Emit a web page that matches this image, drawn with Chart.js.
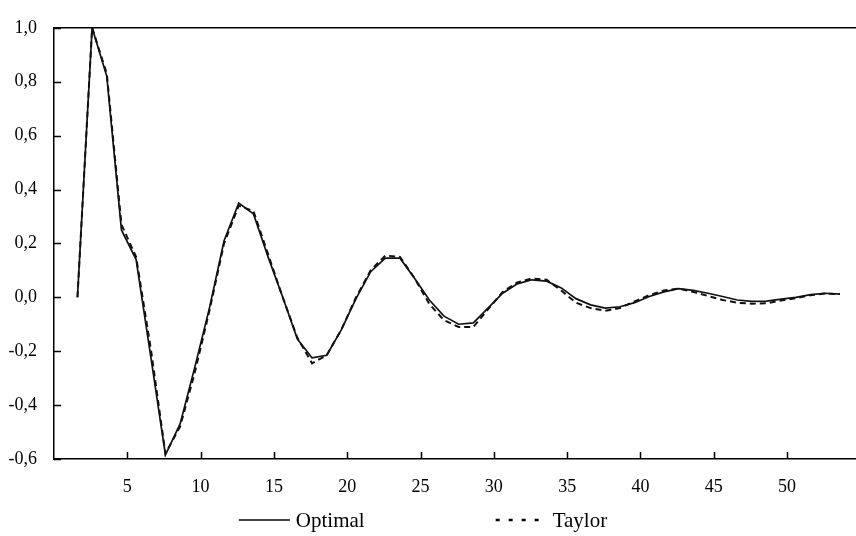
<!DOCTYPE html>
<html><head><meta charset="utf-8">
<script src="https://cdn.jsdelivr.net/npm/chart.js@4"></script>
<style>html,body{margin:0;padding:0;background:#fff}</style>
</head><body>
<canvas id="c" width="856" height="536"></canvas>
<script>
// ---- data ----
const lags = [1,2,3,4,5,6,7,8,9,10,11,12,13,14,15,16,17,18,19,20,21,22,23,24,25,26,27,28,29,30,31,32,33,34,35,36,37,38,39,40,41,42,43,44,45,46,47,48,49,50,51,52,53];
const lagPlotOffset = 0.6; // points sit slightly right of the integer lag in the original
const optimal = [0.0,1.0,0.82,0.25,0.14,-0.22,-0.585,-0.47,-0.26,-0.04,0.21,0.35,0.31,0.15,0.0,-0.155,-0.225,-0.215,-0.12,-0.005,0.095,0.145,0.145,0.07,-0.01,-0.07,-0.10,-0.095,-0.04,0.015,0.05,0.065,0.06,0.035,-0.005,-0.028,-0.04,-0.035,-0.02,0.003,0.02,0.032,0.026,0.015,0.003,-0.01,-0.015,-0.014,-0.007,0.0,0.01,0.015,0.012];
const taylor = [0.0,1.0,0.83,0.27,0.15,-0.19,-0.58,-0.48,-0.28,-0.05,0.20,0.34,0.32,0.16,0.0,-0.15,-0.245,-0.215,-0.12,0.0,0.10,0.155,0.15,0.07,-0.025,-0.085,-0.11,-0.11,-0.045,0.02,0.055,0.07,0.065,0.025,-0.02,-0.04,-0.05,-0.04,-0.015,0.008,0.025,0.032,0.02,0.005,-0.01,-0.02,-0.024,-0.022,-0.012,-0.003,0.008,0.014,0.012];
const seriesNames = ['Optimal', 'Taylor'];
const xTicks = [5,10,15,20,25,30,35,40,45,50];
const yTicks = [-0.6,-0.4,-0.2,0.0,0.2,0.4,0.6,0.8,1.0];

const FONT = '"Liberation Serif", "Times New Roman", serif';
const INK = '#000';

const toPts = arr => arr.map((v, i) => ({x: lags[i] + lagPlotOffset, y: v}));

const frameAndTicks = {
  id: 'frameAndTicks',
  afterDraw(chart) {
    const {ctx, chartArea: a, scales: {x, y}} = chart;
    ctx.save();
    ctx.strokeStyle = INK;
    ctx.lineWidth = 1.5;
    ctx.beginPath();
    ctx.moveTo(a.left, a.top); ctx.lineTo(a.right, a.top);
    xTicks.forEach(v => { const p = Math.round(x.getPixelForValue(v)) + 0.5; ctx.moveTo(p, a.bottom); ctx.lineTo(p, a.bottom - 7); });
    yTicks.forEach(v => { const p = Math.round(y.getPixelForValue(v)) + 0.5; ctx.moveTo(a.left, p); ctx.lineTo(a.left + 7, p); });
    ctx.stroke();
    // legend
    const legendY = 520;
    ctx.font = '21px ' + FONT;
    ctx.fillStyle = INK;
    ctx.textBaseline = 'middle';
    const lineLen = 51, gap = 6, spacing = 131;
    const items = chart.data.datasets.map(ds => ({ds, w: lineLen + gap + ctx.measureText(ds.label).width}));
    const total = items.reduce((s, it) => s + it.w, 0) + spacing * (items.length - 1);
    let cx = chart.width / 2 - total / 2 - 5;
    items.forEach(it => {
      ctx.beginPath();
      ctx.lineWidth = it.ds.legendDash.length ? 2.5 : 1.5;
      ctx.setLineDash(it.ds.legendDash);
      ctx.moveTo(cx, legendY); ctx.lineTo(cx + lineLen, legendY);
      ctx.stroke();
      ctx.setLineDash([]);
      ctx.fillText(it.ds.label, cx + lineLen + gap, legendY + 1);
      cx += it.w + spacing;
    });
    ctx.restore();
  }
};

new Chart(document.getElementById('c'), {
  type: 'line',
  data: {
    datasets: [
      {label: seriesNames[0], data: toPts(optimal), borderColor: '#111', borderWidth: 1.7, pointRadius: 0, fill: false, tension: 0, legendDash: []},
      {label: seriesNames[1], data: toPts(taylor), borderColor: '#111', borderWidth: 2, borderDash: [6, 4], pointRadius: 0, fill: false, tension: 0, legendDash: [4, 9]}
    ]
  },
  options: {
    responsive: false,
    animation: false,
    devicePixelRatio: 1,
    layout: {padding: {left: 0, right: 0, top: 13, bottom: 37}},
    plugins: {legend: {display: false}, tooltip: {enabled: false}},
    scales: {
      x: {
        type: 'linear', min: 0, max: 54.7,
        afterBuildTicks: s => { s.ticks = xTicks.map(v => ({value: v})); },
        afterFit: s => { s.height = 40; },
        grid: {display: false, drawTicks: false},
        border: {display: true, color: INK, width: 1.5},
        ticks: {padding: 17, color: INK, font: {family: FONT, size: 18}, maxRotation: 0, autoSkip: false, callback: v => String(v)}
      },
      y: {
        type: 'linear', min: -0.6, max: 1.0,
        afterBuildTicks: s => { s.ticks = yTicks.map(v => ({value: v})); },
        afterFit: s => { s.width = 54; },
        grid: {display: false, drawTicks: false},
        border: {display: true, color: INK, width: 1.5},
        ticks: {padding: 17, color: INK, font: {family: FONT, size: 18}, callback: v => Number(v).toFixed(1).replace('.', ',')}
      }
    }
  },
  plugins: [frameAndTicks]
});
</script>
</body></html>
